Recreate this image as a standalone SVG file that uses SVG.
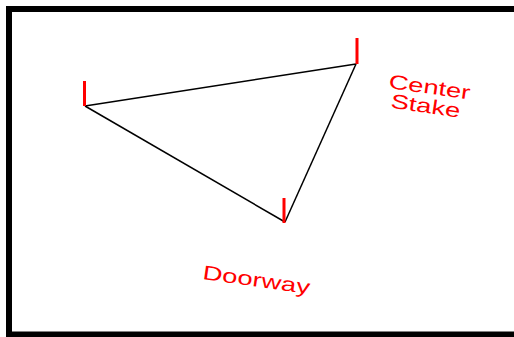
<svg xmlns="http://www.w3.org/2000/svg" width="514" height="337" viewBox="0 0 514 337">
<style>
.frame{fill:none;stroke:#000;stroke-width:6}
.stake{stroke:#ff0000;stroke-width:3;stroke-linecap:butt}
.edge{stroke:#000;stroke-width:1.5;fill:none}
.lbl{fill:#ff0000;font-family:"Liberation Sans",Arial,sans-serif;font-size:20px}
</style>
<rect width="514" height="337" fill="#fff"/>
<rect class="frame" x="9" y="9" width="520" height="325.5"/>
<g id="connectors">
<line class="edge" x1="85" y1="106" x2="356" y2="64"/>
<line class="edge" x1="356" y1="64" x2="285" y2="222"/>
<line class="edge" x1="285" y1="222" x2="85" y2="106"/>
</g>
<g id="stake-left"><line class="stake" x1="84.5" y1="81" x2="84.5" y2="106"/></g>
<g id="stake-center"><line class="stake" x1="357" y1="38" x2="357" y2="64"/></g>
<g id="stake-door"><line class="stake" x1="284" y1="198" x2="284" y2="223"/></g>
<g id="label-center">
<text class="lbl" transform="translate(388,88) rotate(8) scale(1.37,1)">Center</text>
<text class="lbl" transform="translate(390,107.5) rotate(8.5) scale(1.37,1)">Stake</text>
</g>
<g id="label-door">
<text class="lbl" transform="translate(202,279) rotate(8) scale(1.37,1)">Doorway</text>
</g>
</svg>
